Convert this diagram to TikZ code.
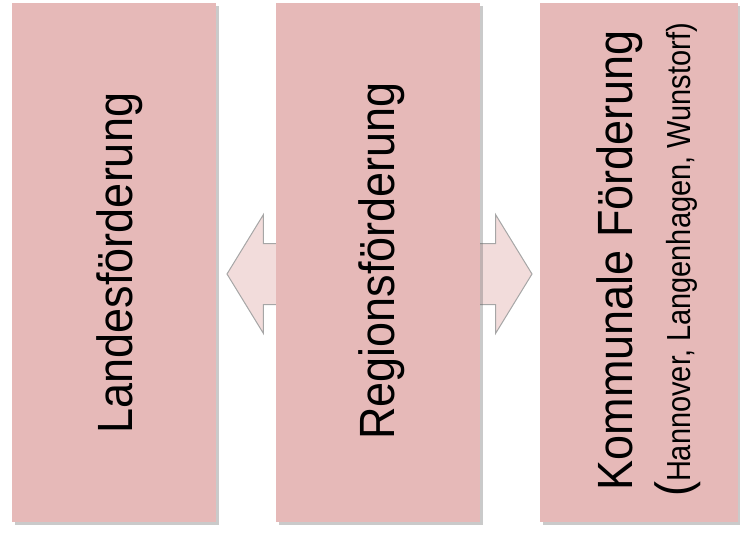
\documentclass[tikz,border=0pt]{standalone}
\usepackage{fontspec}
\setmainfont{Liberation Sans}
\usetikzlibrary{shapes.arrows, shadows}

\definecolor{boxpink}{HTML}{E6B9B8}
\definecolor{arrowpink}{HTML}{F2DCDB}
\definecolor{arrowline}{HTML}{A6A6A6}

\tikzset{
    ebene/.style={fill=boxpink, draw=none, inner sep=0pt,
        drop shadow={shadow xshift=3pt, shadow yshift=-3pt, opacity=0.35, fill=black!60}},
    ebenetext/.style={rotate=90, inner sep=0pt, font=\fontsize{45}{58}\selectfont}
}

\begin{document}
\begin{tikzpicture}[x=1pt, y=-1pt]
    \useasboundingbox (0,0) rectangle (740,549);

    \node[double arrow, draw=arrowline, fill=arrowpink, line width=1pt,
          minimum height=305pt, minimum width=118pt, inner xsep=0pt, inner ysep=30pt,
          double arrow head extend=29pt, double arrow tip angle=117] (pfeil) at (379.5,274) {};

    \node[ebene, minimum width=204pt, minimum height=519pt] (land) at (114,262.5) {};
    \node[ebene, minimum width=204pt, minimum height=519pt] (region) at (378,262.5) {};
    \node[ebene, minimum width=198pt, minimum height=519pt] (kommune) at (639,262.5) {};

    \node[ebenetext] (landtxt) at (120,263) {\scalebox{1}[1.1]{Landesförderung}};
    \node[ebenetext] (regiontxt) at (382,261) {\scalebox{1}[1.1]{Regionsförderung}};
    \node[ebenetext, align=center] (kommunetxt) at (649,260)
        {\scalebox{1}[1.1]{Kommunale Förderung}\\
         \scalebox{1}[1.1]{(}\scalebox{1}[1.15]{\fontsize{29}{32}\selectfont Hannover, Langenhagen, Wunstorf)}};
\end{tikzpicture}
\end{document}
